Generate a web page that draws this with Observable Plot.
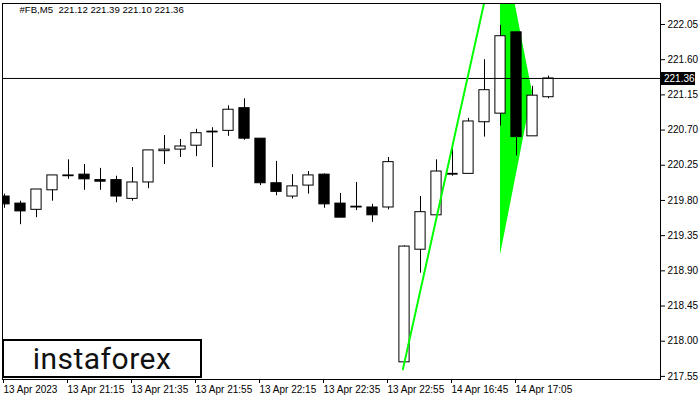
<!DOCTYPE html>
<html>
<head>
<meta charset="utf-8">
<script src="https://cdn.jsdelivr.net/npm/d3@7"></script>
<script src="https://cdn.jsdelivr.net/npm/@observablehq/plot@0.6"></script>
<style>
  html, body { margin: 0; padding: 0; background: #fff; }
  #wrap { position: relative; width: 700px; height: 400px; overflow: hidden; }
  #logo {
    position: absolute; left: 2px; top: 339px; width: 196px; height: 35px;
    border: 2px solid #000; background: #fff;
    font-family: Roboto, "DejaVu Sans", sans-serif; font-size: 30px; line-height: 35px;
    text-align: center; color: #111; letter-spacing: 0.5px;
  }
</style>
</head>
<body>
<div id="wrap"><div id="logo">instaforex</div></div>
<script>
// ---- data (M5 candles) ----
const openP  = [219.85,219.76,219.68,219.93,220.11,220.13,220.06,220.06,219.82,220.03,220.43,220.45,220.50,220.68,220.69,220.98,220.59,220.02,219.85,219.99,220.13,219.76,219.72,219.71,219.71,217.73,219.17,219.61,220.14,220.14,220.80,220.91,221.95,220.62,221.12];
const highP  = [219.88,219.79,219.94,220.12,220.32,220.26,220.21,220.11,220.22,220.44,220.63,220.58,220.71,220.73,221.01,221.10,220.59,220.30,220.13,220.17,220.14,219.89,220.03,219.75,220.35,219.22,219.85,220.32,220.53,220.85,221.60,222.04,221.95,221.26,221.39];
const lowP   = [219.70,219.49,219.58,219.79,220.07,219.93,219.93,219.77,219.79,219.95,220.26,220.35,220.36,220.22,220.62,220.57,219.99,219.86,219.82,219.88,219.70,219.58,219.67,219.52,219.68,217.72,218.87,219.56,220.11,220.14,220.61,220.75,220.37,220.62,221.10];
const closeP = [219.75,219.66,219.94,220.12,220.12,220.07,220.04,219.85,220.03,220.44,220.45,220.49,220.66,220.67,220.96,220.59,220.02,219.91,219.98,220.12,219.75,219.58,219.71,219.61,220.29,219.21,219.65,220.17,220.13,220.81,221.21,221.90,220.61,221.14,221.36];

const xTickIdx    = [0, 4, 8, 12, 16, 20, 24, 28, 32];
const xTickLabels = ["13 Apr 2023","13 Apr 21:15","13 Apr 21:35","13 Apr 21:55","13 Apr 22:15","13 Apr 22:35","13 Apr 22:55","14 Apr 16:45","14 Apr 17:05"];
const yTicks      = [217.55, 218.00, 218.45, 218.90, 219.35, 219.80, 220.25, 220.70, 221.15, 221.60, 222.05];

const symbolName = "#FB,M5";
const lastPrice  = 221.36;

// bullish flag pattern (pole + flag)
const poleX = [24.9, 31];
const poleY = [217.64, 223.27];
const flagX  = [31, 33];
const flagLo = [219.10, 221.18];
const flagHi = [223.27, 221.18];

// ---- build tables ----
const candles = openP.map((o, i) => ({i, o, h: highP[i], l: lowP[i], c: closeP[i]}));
const pole = poleX.map((x, k) => ({x, y: poleY[k]}));
const flag = flagX.map((x, k) => ({x, y1: flagLo[k], y2: flagHi[k]}));
const last = candles[candles.length - 1];
const titleText = `${symbolName}  ${last.o.toFixed(2)} ${last.h.toFixed(2)} ${last.l.toFixed(2)} ${last.c.toFixed(2)}`;

const halfBody = 0.32;
const FONT = "'Liberation Sans', Arial, sans-serif";

const chart = Plot.plot({
  width: 700,
  height: 400,
  marginLeft: 2,
  marginRight: 40,
  marginTop: 3,
  marginBottom: 21,
  style: {fontFamily: FONT, fontSize: "10px", color: "#000", background: "#fff"},
  x: {type: "linear", domain: [-0.125, 41]},
  y: {type: "linear", domain: [217.5104, 222.3185]},
  marks: [
    Plot.areaY(flag, {x: "x", y1: "y1", y2: "y2", fill: "#00ff00", fillOpacity: 1, clip: true}),
    Plot.ruleX(candles, {x: "i", y1: "l", y2: "h", stroke: "#000", strokeWidth: 1, clip: true}),
    Plot.rect(candles, {
      x1: d => d.i - halfBody, x2: d => d.i + halfBody,
      y1: "o", y2: "c",
      fill: d => d.c < d.o ? "#000" : "#fff",
      stroke: "#000", strokeWidth: 1, clip: true
    }),
    Plot.ruleY([lastPrice], {stroke: "#000", strokeWidth: 1}),
    Plot.line(pole, {x: "x", y: "y", stroke: "#00ff00", strokeWidth: 2, clip: true}),
    Plot.frame({stroke: "#000"}),
    Plot.text([titleText], {frameAnchor: "top-left", dx: 17, dy: 3, text: d => d, fill: "#000", fontSize: 9.6}),
    Plot.axisY({anchor: "right", ticks: yTicks, tickFormat: d => d.toFixed(2), tickSize: 4, tickPadding: 3, label: null, fontSize: 10}),
    Plot.axisX({ticks: xTickIdx, tickFormat: d => xTickLabels[xTickIdx.indexOf(d)], tickSize: 4, tickPadding: 2, textAnchor: "start", dx: -1, label: null, fontSize: 10})
  ]
});

document.getElementById("wrap").insertBefore(chart, document.getElementById("logo"));

// current price badge on the right axis (position from Plot's y scale)
const yPix = Math.round(chart.scale("y").apply(lastPrice));
const svg = d3.select(chart);
const badge = svg.append("g");
badge.append("rect").attr("x", 661).attr("y", yPix - 6).attr("width", 34).attr("height", 13).attr("fill", "#000");
badge.append("text").attr("x", 664).attr("y", yPix + 4)
  .attr("text-anchor", "start")
  .attr("fill", "#fff").attr("font-size", 10).attr("font-family", FONT)
  .text(lastPrice.toFixed(2));
</script>
</body>
</html>
